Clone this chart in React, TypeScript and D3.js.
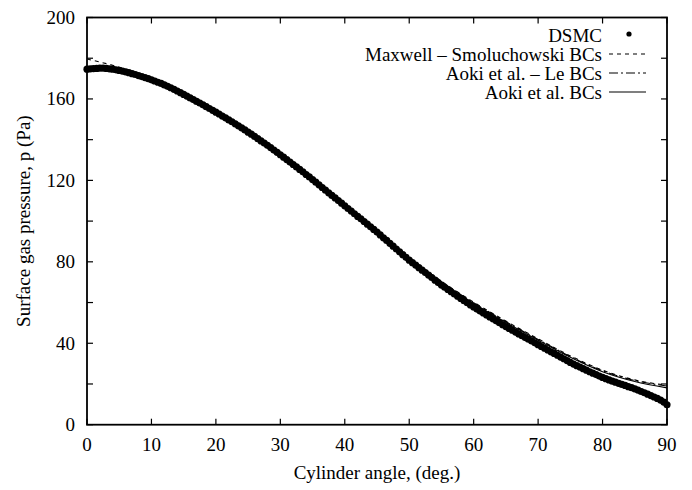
import React from 'react';
import * as d3 from 'd3';

const W = 692;
const H = 490;

// X ticks (cylinder angle, deg) and Y ticks (pressure, Pa)
const xTicks = [0, 10, 20, 30, 40, 50, 60, 70, 80, 90];
const yTicks = [0, 20, 40, 60, 80, 100, 120, 140, 160, 180, 200];
const yLabelTicks = [0, 40, 80, 120, 160, 200];

// DSMC samples every 0.5 deg
const dsmcAngle = d3.range(0, 90.001, 0.5);
const dsmcP = [
  174.6, 174.8, 174.9, 175.0, 175.1, 175.1, 175.0, 174.8, 174.6, 174.3,
  174.0, 173.7, 173.3, 172.9, 172.4, 172.0, 171.5, 171.0, 170.5, 170.0,
  169.4, 168.8, 168.2, 167.6, 166.9, 166.2, 165.5, 164.7, 163.9, 163.1,
  162.2, 161.4, 160.5, 159.7, 158.8, 158.0, 157.1, 156.2, 155.3, 154.4,
  153.5, 152.6, 151.6, 150.7, 149.7, 148.8, 147.8, 146.8, 145.8, 144.8,
  143.7, 142.7, 141.6, 140.5, 139.4, 138.3, 137.2, 136.1, 134.9, 133.8,
  132.6, 131.4, 130.2, 129.0, 127.8, 126.6, 125.4, 124.2, 122.9, 121.7,
  120.4, 119.1, 117.8, 116.5, 115.2, 113.9, 112.6, 111.4, 110.1, 108.8,
  107.5, 106.2, 104.9, 103.6, 102.3, 101.1, 99.8, 98.5, 97.2, 95.9,
  94.6, 93.2, 91.8, 90.5, 89.1, 87.7, 86.3, 84.9, 83.5, 82.2,
  80.8, 79.6, 78.4, 77.1, 75.9, 74.7, 73.5, 72.3, 71.0, 69.8,
  68.6, 67.5, 66.4, 65.3, 64.2, 63.1, 62.0, 60.9, 59.9, 58.8,
  57.8, 56.8, 55.8, 54.9, 53.9, 52.9, 52.0, 51.0, 50.1, 49.1,
  48.2, 47.3, 46.4, 45.5, 44.6, 43.7, 42.8, 42.0, 41.1, 40.2,
  39.3, 38.4, 37.6, 36.7, 35.8, 35.0, 34.1, 33.2, 32.4, 31.5,
  30.6, 29.8, 29.0, 28.3, 27.5, 26.8, 26.0, 25.3, 24.6, 23.9,
  23.2, 22.6, 22.0, 21.4, 20.9, 20.3, 19.8, 19.3, 18.7, 18.2,
  17.6, 17.0, 16.3, 15.7, 15.0, 14.3, 13.6, 12.9, 12.1, 11.1,
  9.8,
];

// Model curves every 5 deg
const modelAngle = [0, 5, 10, 15, 20, 25, 30, 35, 40, 45, 50, 55, 60, 65, 70, 75, 80, 85, 90];
const maxwellP = [179.6, 175.6, 170.0, 162.6, 153.9, 144.1, 133.0, 120.8, 108.0, 95.0, 82.0, 70.5, 60.2, 50.9, 42.2, 33.8, 26.8, 22.0, 19.4];
const aokiLeP = [175.6, 174.6, 169.8, 162.4, 153.7, 143.9, 132.8, 120.6, 107.8, 94.9, 81.8, 70.2, 59.9, 50.6, 41.9, 33.5, 26.5, 21.7, 19.0];
const aokiP = [175.3, 174.4, 169.6, 162.3, 153.6, 143.8, 132.7, 120.5, 107.7, 94.8, 81.6, 69.9, 59.5, 50.2, 41.5, 33.1, 26.0, 21.2, 18.1];

const legendLabels = ['DSMC', 'Maxwell \u2013 Smoluchowski BCs', 'Aoki et al. \u2013 Le BCs', 'Aoki et al. BCs'];

const FONT = '"Liberation Serif", "DejaVu Serif", serif';

export default function App() {
  const x = d3.scaleLinear().domain([0, 90]).range([87, 667]);
  const y = d3.scaleLinear().domain([0, 200]).range([424.7, 17.5]);
  const [x0, x1] = x.range();
  const [y0, y1] = y.range();
  const tl = 6;

  const line = d3
    .line<number>()
    .x((_, i) => x(modelAngle[i]))
    .y((d) => y(d))
    .curve(d3.curveMonotoneX);

  const series = [
    { vals: maxwellP, dash: '4,4' },
    { vals: aokiLeP, dash: '9,3,2,3' },
    { vals: aokiP, dash: undefined as string | undefined },
  ];

  const legX = 602;
  const legBase = 41.5;
  const legStep = 19;

  return (
    <svg
      width={W}
      height={H}
      viewBox={`0 0 ${W} ${H}`}
      style={{ position: 'absolute', left: 0, top: 0, background: '#fff' }}
      fontFamily={FONT}
    >
      <rect x={0} y={0} width={W} height={H} fill="#fff" />

      {/* ticks */}
      {xTicks.map((t) => (
        <g key={'xt' + t}>
          <line x1={x(t)} x2={x(t)} y1={y0} y2={y0 - tl} stroke="#000" strokeWidth={1.2} />
          <line x1={x(t)} x2={x(t)} y1={y1} y2={y1 + tl} stroke="#000" strokeWidth={1.2} />
          <text x={x(t)} y={451} fontSize={19} textAnchor="middle" fill="#000">
            {t}
          </text>
        </g>
      ))}
      {yTicks.map((t) => (
        <g key={'yt' + t}>
          <line x1={x0} x2={x0 + tl} y1={y(t)} y2={y(t)} stroke="#000" strokeWidth={1.2} />
          <line x1={x1} x2={x1 - tl} y1={y(t)} y2={y(t)} stroke="#000" strokeWidth={1.2} />
        </g>
      ))}
      {yLabelTicks.map((t) => (
        <text key={'yl' + t} x={75} y={y(t) + 6.5} fontSize={19} textAnchor="end" fill="#000">
          {t}
        </text>
      ))}

      {/* model curves */}
      {series.map((s, i) => (
        <path
          key={'s' + i}
          d={line(s.vals) || ''}
          fill="none"
          stroke="#000"
          strokeWidth={1.1}
          strokeDasharray={s.dash}
        />
      ))}

      {/* DSMC points */}
      {dsmcP.map((v, i) => (
        <circle key={'d' + i} cx={x(dsmcAngle[i])} cy={y(v)} r={3.6} fill="#000" />
      ))}

      {/* frame */}
      <rect
        x={x0}
        y={y1}
        width={x1 - x0}
        height={y0 - y1}
        fill="none"
        stroke="#000"
        strokeWidth={1.8}
      />

      {/* axis labels */}
      <text x={(x0 + x1) / 2} y={478.5} fontSize={19} textAnchor="middle" fill="#000">
        Cylinder angle, (deg.)
      </text>
      <text
        transform={`translate(29.5, ${(y0 + y1) / 2}) rotate(-90)`}
        fontSize={19}
        textAnchor="middle"
        fill="#000"
      >
        Surface gas pressure, p (Pa)
      </text>

      {/* legend */}
      {legendLabels.map((lab, i) => (
        <text key={'lg' + i} x={legX} y={legBase + i * legStep} fontSize={19} textAnchor="end" fill="#000">
          {lab}
        </text>
      ))}
      <circle cx={629} cy={legBase - 7.5} r={2.6} fill="#000" />
      {series.map((s, i) => (
        <line
          key={'ls' + i}
          x1={609}
          x2={646}
          y1={legBase + (i + 1) * legStep - 6.5}
          y2={legBase + (i + 1) * legStep - 6.5}
          stroke="#000"
          strokeWidth={1.1}
          strokeDasharray={s.dash}
        />
      ))}
    </svg>
  );
}
